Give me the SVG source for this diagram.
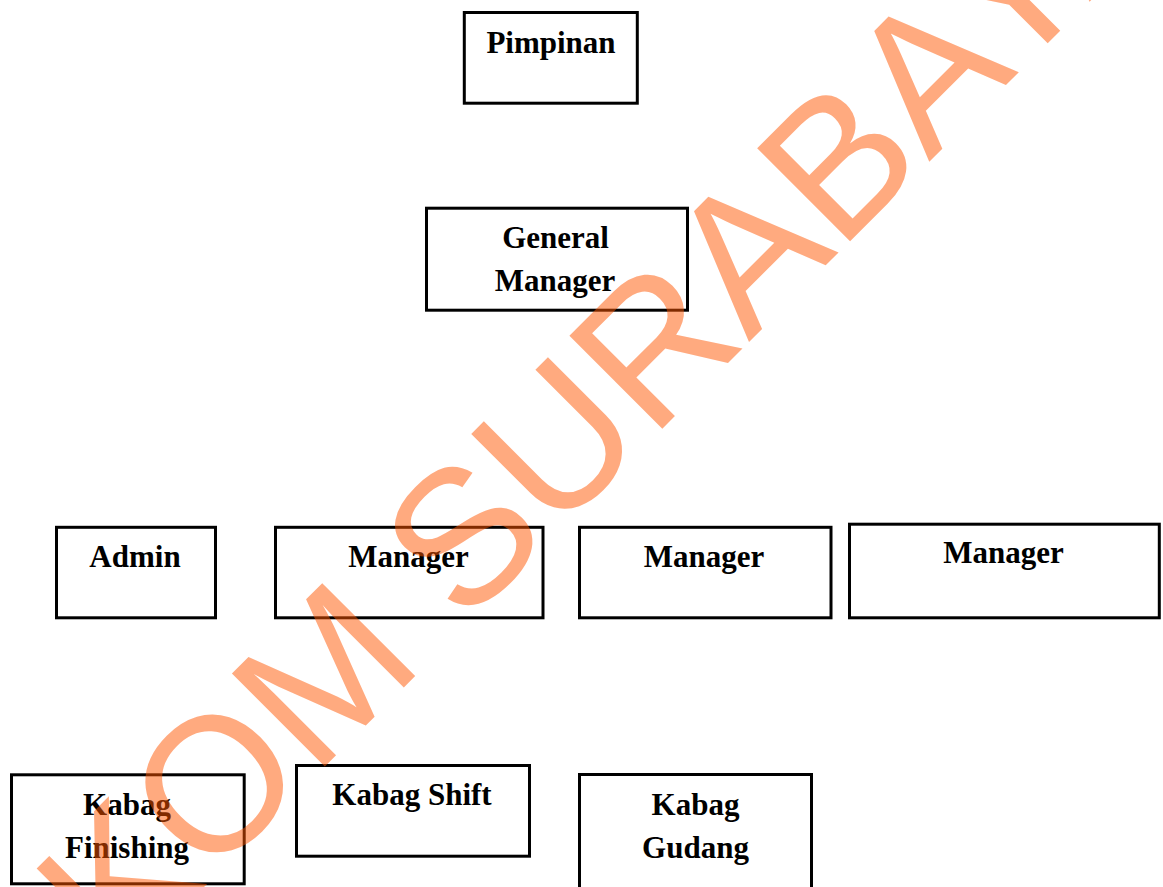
<svg xmlns="http://www.w3.org/2000/svg" width="1163" height="887" viewBox="0 0 1163 887">
<style>
.box{fill:#fff;stroke:#000;stroke-width:3}
.lbl{font-family:"Liberation Serif","Times New Roman",serif;font-weight:bold;font-size:31px;fill:#000;text-anchor:middle}
.wm{font-family:"Liberation Sans",Arial,sans-serif;font-size:191px;fill:#FF5500;fill-opacity:0.5}
</style>
<rect width="1163" height="887" fill="#fff"/>
<g id="connectors"></g>
<g id="pimpinan"><rect class="box" x="464.3" y="12.5" width="173" height="90.7"/><text class="lbl" x="551" y="53">Pimpinan</text></g>
<g id="general-manager"><rect class="box" x="426.5" y="208.2" width="261" height="102"/><text class="lbl" x="555.5" y="248">General</text><text class="lbl" x="555" y="291">Manager</text></g>
<g id="admin"><rect class="box" x="56.5" y="527.3" width="159" height="90.5"/><text class="lbl" x="135" y="567">Admin</text></g>
<g id="manager-1"><rect class="box" x="275.5" y="527.3" width="267.5" height="90.5"/><text class="lbl" x="408.5" y="567">Manager</text></g>
<g id="manager-2"><rect class="box" x="579.5" y="527.3" width="251.5" height="90.5"/><text class="lbl" x="704" y="567">Manager</text></g>
<g id="manager-3"><rect class="box" x="849.5" y="524.2" width="309.8" height="93.6"/><text class="lbl" x="1003.5" y="563">Manager</text></g>
<g id="kabag-finishing"><rect class="box" x="11.5" y="774.8" width="232.7" height="109"/><text class="lbl" x="127" y="815">Kabag</text><text class="lbl" x="127" y="858">Finishing</text></g>
<g id="kabag-shift"><rect class="box" x="296.5" y="765.5" width="233" height="90.7"/><text class="lbl" x="412" y="804.5">Kabag Shift</text></g>
<g id="kabag-gudang"><rect class="box" x="579.5" y="774.5" width="232" height="115"/><text class="lbl" x="695.5" y="815">Kabag</text><text class="lbl" x="695.5" y="858">Gudang</text></g>
<g id="watermark"><text class="wm" x="-901" y="771.5" transform="rotate(-45)">STIKOM SURABAYA</text></g>
</svg>
